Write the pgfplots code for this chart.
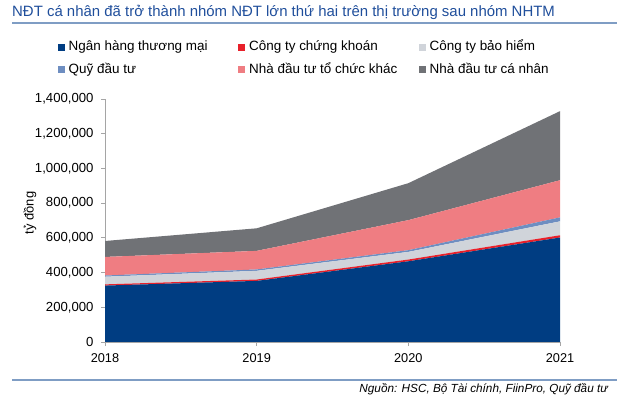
\documentclass[border=0pt]{standalone}
\usepackage{pgfplots}
\pgfplotsset{compat=1.18}
\usepackage{pgfplotstable}
\usepackage{fontspec}
\setmainfont{Liberation Sans}
\definecolor{cNH}{RGB}{0,61,130}
\definecolor{cCK}{RGB}{232,32,42}
\definecolor{cBH}{RGB}{208,212,218}
\definecolor{cQuy}{RGB}{110,142,193}
\definecolor{cKhac}{RGB}{239,125,130}
\definecolor{cCN}{RGB}{112,114,118}
\definecolor{cTitle}{RGB}{31,78,155}
\definecolor{cRule}{RGB}{127,157,196}
\definecolor{cAxis}{RGB}{165,165,165}

\pgfplotstableread{
year nh ck bh quy khac canhan
2018 325000 7000 44000 7000 107000 92000
2019 352000 8000 50000 8000 107000 130000
2020 465000 10000 44000 10000 173000 213000
2021 602000 13000 80000 23000 214000 398000
}\data

\begin{document}
\begin{tikzpicture}
\useasboundingbox (0bp,0bp) rectangle (617bp,403bp);
\node[anchor=base west, text=cTitle, font=\fontsize{15}{17}\selectfont, inner sep=0] at (12bp,386bp) {NĐT cá nhân đã trở thành nhóm NĐT lớn thứ hai trên thị trường sau nhóm NHTM};
\draw[cRule, line width=1.5bp] (12bp,380bp) -- (617bp,380bp);
\draw[cRule, line width=1.5bp] (12bp,23bp) -- (617bp,23bp);
\node[anchor=base east, font=\fontsize{11.8}{13}\selectfont\itshape, inner sep=0] at (608bp,11bp) {Nguồn: HSC, Bộ Tài chính, FiinPro, Quỹ đầu tư};
\node[rotate=90, font=\fontsize{13}{15}\selectfont, inner sep=0] at (30bp,190bp) {tỷ đồng};
\begin{axis}[
  at={(105bp,61bp)}, anchor=south west, scale only axis,
  width=455bp, height=243bp,
  stack plots=y,
  xmin=2018, xmax=2021, ymin=0, ymax=1400000,
  xtick={2018,2019,2020,2021},
  ytick={0,200000,400000,600000,800000,1000000,1200000,1400000},
  scaled ticks=false,
  axis x line*=bottom, axis y line*=left,
  axis line style={cAxis, line width=0.8bp, -},
  tick style={cAxis, line width=0.8bp},
  tick align=outside, major tick length=4bp,
  xticklabel style={font=\fontsize{12.8}{14}\selectfont, yshift=-4bp, /pgf/number format/1000 sep={}, /pgf/number format/assume math mode=true},
  yticklabel style={font=\fontsize{13.2}{15}\selectfont, xshift=-4bp, /pgf/number format/.cd, fixed, 1000 sep={,}, assume math mode=true},
  legend columns=3,
  legend cell align=left,
  legend style={draw=none, fill=none, inner sep=0pt, at={(-0.1044,1.2395)}, anchor=north west,
    /tikz/column sep=0pt, /tikz/row sep=9.3bp,
    nodes={inner sep=0pt, text height=10bp, text depth=3bp, font=\fontsize{13.5}{15}\selectfont}},
  legend image code/.code={\fill[#1, draw=none] (0bp,-3.5bp) rectangle (7bp,3.5bp);},
]
\addplot[fill=cNH, draw=none] table[x=year,y=nh]{\data} \closedcycle;
\addlegendentry{\makebox[173.5bp][l]{\hspace{4bp}Ngân hàng thương mại}}
\addplot[fill=cCK, draw=none] table[x=year,y=ck]{\data} \closedcycle;
\addlegendentry{\makebox[173.5bp][l]{\hspace{4bp}Công ty chứng khoán}}
\addplot[fill=cBH, draw=none] table[x=year,y=bh]{\data} \closedcycle;
\addlegendentry{\makebox[173.5bp][l]{\hspace{4bp}Công ty bảo hiểm}}
\addplot[fill=cQuy, draw=none] table[x=year,y=quy]{\data} \closedcycle;
\addlegendentry{\makebox[173.5bp][l]{\hspace{4bp}Quỹ đầu tư}}
\addplot[fill=cKhac, draw=none] table[x=year,y=khac]{\data} \closedcycle;
\addlegendentry{\makebox[173.5bp][l]{\hspace{4bp}Nhà đầu tư tổ chức khác}}
\addplot[fill=cCN, draw=none] table[x=year,y=canhan]{\data} \closedcycle;
\addlegendentry{\makebox[173.5bp][l]{\hspace{4bp}Nhà đầu tư cá nhân}}
\end{axis}
\end{tikzpicture}
\end{document}
